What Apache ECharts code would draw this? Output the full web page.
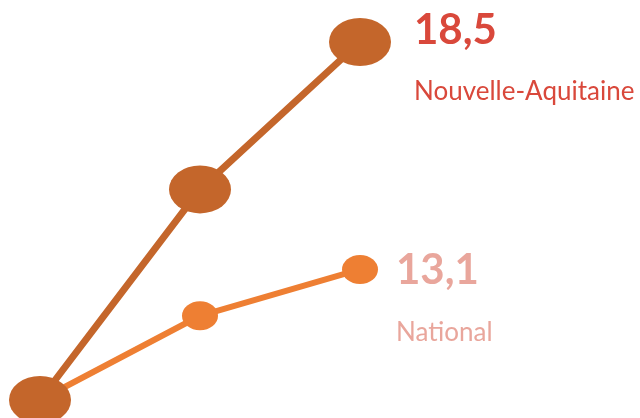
<!DOCTYPE html>
<html>
<head>
<meta charset="utf-8">
<script src="https://cdn.jsdelivr.net/npm/echarts@6/dist/echarts.min.js"></script>
<style>
html,body{margin:0;padding:0;background:#fff;}
#c{width:640px;height:418px;}
</style>
</head>
<body>
<div id="c"></div>
<script>
var categories = ['t0', 't1', 't2'];
var naValues = [10, 15, 18.5];
var nationalValues = [10, 12, 13.1];
var naName = 'Nouvelle-Aquitaine';
var nationalName = 'National';

function fmt(v) { return String(v).replace('.', ','); }

var chart = echarts.init(document.getElementById('c'));
function lastLabel(name, valColor, nameColor, dist, off) {
  return {
    show: true,
    position: 'right',
    distance: dist,
    offset: off,
    align: 'left',
    formatter: function (p) { return '{v|' + fmt(p.value) + '}\n{n|' + name + '}'; },
    rich: {
      v: { fontFamily: 'Lato', fontWeight: 'bold', fontSize: 42, color: valColor, lineHeight: 62 },
      n: { fontFamily: 'Lato', fontSize: 26, color: nameColor, lineHeight: 62 }
    }
  };
}
function buildData(values, label) {
  return values.map(function (v, i) {
    var d = { value: v };
    if (i === values.length - 1) d.label = label;
    return d;
  });
}
chart.setOption({
  animation: false,
  grid: { left: 40, right: 280, top: 42, bottom: 18 },
  xAxis: { type: 'category', data: categories, boundaryGap: false, show: false },
  yAxis: { type: 'value', min: 10, max: 18.5, show: false },
  series: [
    {
      name: nationalName,
      type: 'line',
      clip: false,
      z: 2,
      data: buildData(nationalValues, lastLabel(nationalName, '#E9A69C', '#E9A69C', 18, [0, 32])),
      symbol: 'circle',
      symbolSize: [36, 29],
      lineStyle: { color: '#EE7F33', width: 6 },
      itemStyle: { color: '#EE7F33' }
    },
    {
      name: naName,
      type: 'line',
      clip: false,
      z: 3,
      data: buildData(naValues, lastLabel(naName, '#D9483B', '#D9483B', 23, [0, 19])),
      symbol: 'circle',
      symbolSize: [62, 48],
      lineStyle: { color: '#C4662B', width: 7 },
      itemStyle: { color: '#C4662B' }
    }
  ]
});
</script>
</body>
</html>
